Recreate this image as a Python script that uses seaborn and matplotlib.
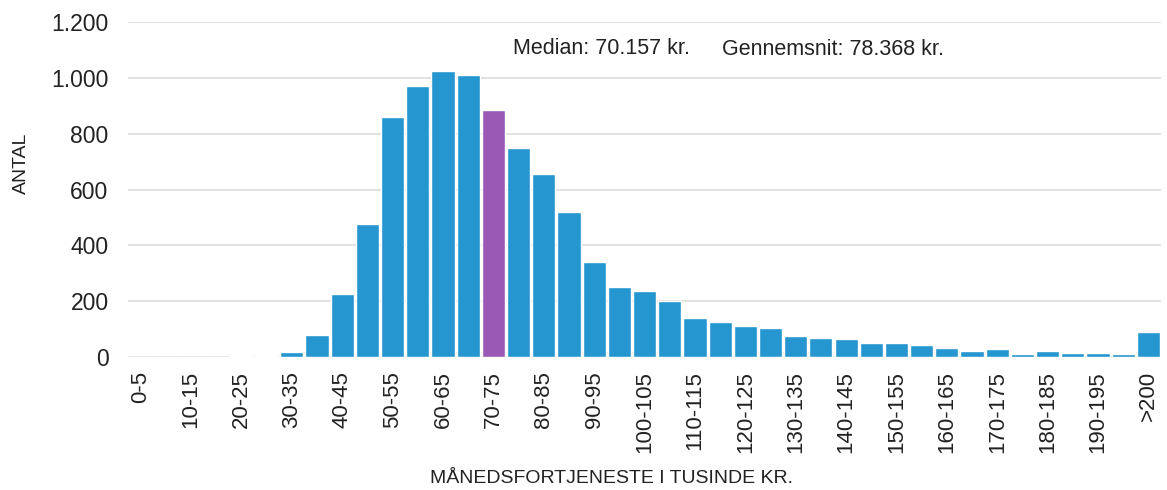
import matplotlib
matplotlib.use("Agg")
import matplotlib.pyplot as plt
import seaborn as sns
from matplotlib.ticker import FuncFormatter

# data
categories = [f"{i}-{i + 5}" for i in range(0, 200, 5)] + [">200"]
counts = [0, 0, 0, 0, 2, 4, 19, 79, 225, 478,
          860, 972, 1024, 1010, 886, 748, 656, 518, 340, 252,
          237, 200, 141, 124, 112, 104, 76, 67, 66, 49,
          49, 42, 33, 23, 30, 12, 21, 13, 14, 12,
          88]
median_label = "Median: 70.157 kr."
mean_label = "Gennemsnit: 78.368 kr."
median_bin = "70-75"

blue = "#2596cf"
purple = "#9b59b6"
text_col = "#222222"

sns.set_theme(style="white")
plt.rcParams["font.family"] = ["Liberation Sans", "DejaVu Sans"]

fig = plt.figure(figsize=(11.67, 4.9), dpi=100)
ax = fig.add_axes([0.1097, 0.2714, 0.8852, 0.6836])

colors = [purple if c == median_bin else blue for c in categories]
sns.barplot(x=categories, y=counts, hue=categories, palette=colors,
            legend=False, width=0.92, saturation=1, ax=ax)

ax.set_xlim(-0.5, len(categories) - 0.5)
ax.set_ylim(0, 1200)
ax.set_yticks(range(0, 1201, 200))
ax.yaxis.set_major_formatter(FuncFormatter(lambda v, p: f"{int(v):,}".replace(",", ".")))
ax.grid(axis="y", color="#dddddd", linewidth=1.2)
ax.set_axisbelow(True)
sns.despine(ax=ax, left=True, bottom=True)

ax.set_xticks(range(0, len(categories), 2))
ax.set_xticklabels(categories[::2], rotation=90, va="top", ha="center")
ax.tick_params(axis="x", length=0, pad=10, labelsize=16, labelcolor=text_col)
ax.tick_params(axis="y", length=0, pad=14, labelsize=16.5, labelcolor=text_col)

ax.set_ylabel("ANTAL", fontsize=14, color=text_col)
ax.yaxis.set_label_coords(-0.095, 0.579)
ax.set_xlabel("MÅNEDSFORTJENESTE I TUSINDE KR.", fontsize=14, color=text_col)
ax.xaxis.set_label_coords(0.4676, -0.337)

ax.text(14.78, 1107, median_label, fontsize=15.5, color=text_col, va="center", ha="left")
ax.text(23.07, 1100, mean_label, fontsize=15.5, color=text_col, va="center", ha="left")

fig.savefig("out.png", dpi=100)
